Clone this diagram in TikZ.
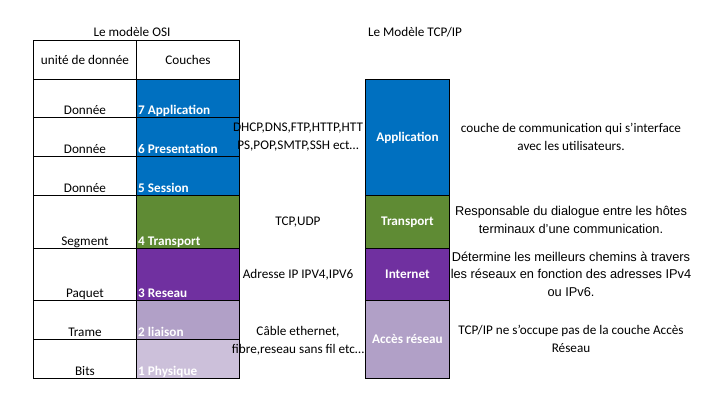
\documentclass[tikz,border=0pt]{standalone}
\usepackage{fontspec}
\setmainfont{Carlito}
\newfontfamily\arialfont{Liberation Sans}
\usetikzlibrary{positioning}
\definecolor{appblue}{HTML}{0070C0}
\definecolor{transgreen}{HTML}{5F8B34}
\definecolor{netpurple}{HTML}{7030A0}
\definecolor{linkpurple}{HTML}{B1A0C7}
\definecolor{physpurple}{HTML}{CCC0DA}
\tikzset{
    every node/.style={inner sep=0pt, font=\fontsize{13.2}{17.5}\selectfont}, % text size of the table
    cell/.style={draw, line width=0.9pt, anchor=north west, minimum width=103pt}, % one cell of the OSI table
    tcpbox/.style={draw, line width=0.9pt, anchor=north west, minimum width=84pt, text=white, font=\fontsize{13.2}{17.5}\selectfont\bfseries}, % one layer of TCP/IP
    unit/.style={text depth=3pt}, % data unit, sits on the bottom line
    layer/.style={text depth=3pt, text=white, font=\fontsize{13.2}{17.5}\selectfont\bfseries}, % OSI layer name
    note/.style={align=center}, % text beside the layers
    arialnote/.style={align=center, font=\arialfont\fontsize{12.8}{17.5}\selectfont},
}
\begin{document}
\begin{tikzpicture}[x=1pt, y=-1pt]
\useasboundingbox (0,0) rectangle (711,410);
% titles
\node (osititle) at (132,32) {Le modèle OSI};
\node (tcptitle) at (415,32) {Le Modèle TCP/IP};
% OSI table
\node[cell, minimum height=39pt] (hunit) at (33,40)  {};
\node[cell, minimum height=39pt] (hlay)  at (136,40) {};
\node at (hunit.center) {unité de donnée};
\node at (hlay.center)  {Couches};
\node[cell, minimum height=38pt]                  (u7) at (33,79)   {};
\node[cell, minimum height=38pt, fill=appblue]    (l7) at (136,79)  {};
\node[cell, minimum height=39pt]                  (u6) at (33,117)  {};
\node[cell, minimum height=39pt, fill=appblue]    (l6) at (136,117) {};
\node[cell, minimum height=39pt]                  (u5) at (33,156)  {};
\node[cell, minimum height=39pt, fill=appblue]    (l5) at (136,156) {};
\node[cell, minimum height=53pt]                  (u4) at (33,195)  {};
\node[cell, minimum height=53pt, fill=transgreen] (l4) at (136,195) {};
\node[cell, minimum height=52pt]                  (u3) at (33,248)  {};
\node[cell, minimum height=52pt, fill=netpurple]  (l3) at (136,248) {};
\node[cell, minimum height=39pt]                  (u2) at (33,300)  {};
\node[cell, minimum height=39pt, fill=linkpurple] (l2) at (136,300) {};
\node[cell, minimum height=39pt]                  (u1) at (33,339)  {};
\node[cell, minimum height=39pt, fill=physpurple] (l1) at (136,339) {};
\node[unit, above=0pt of u7.south] {Donnée};
\node[unit, above=0pt of u6.south] {Donnée};
\node[unit, above=0pt of u5.south] {Donnée};
\node[unit, above=0pt of u4.south] {Segment};
\node[unit, above=0pt of u3.south] {Paquet};
\node[unit, above=0pt of u2.south] {Trame};
\node[unit, above=0pt of u1.south] {Bits};
\node[layer, above right=0pt and 2pt of l7.south west] {7 Application};
\node[layer, above right=0pt and 2pt of l6.south west] {6 Presentation};
\node[layer, above right=0pt and 2pt of l5.south west] {5 Session};
\node[layer, above right=0pt and 2pt of l4.south west] {4 Transport};
\node[layer, above right=0pt and 2pt of l3.south west] {3 Reseau};
\node[layer, above right=0pt and 2pt of l2.south west] {2 liaison};
\node[layer, above right=0pt and 2pt of l1.south west] {1 Physique};
% protocols
\node[note] (papp)  at (298,137) {DHCP,DNS,FTP,HTTP,HTT\\PS,POP,SMTP,SSH ect…};
\node[note] (ptrans) at (298,222) {TCP,UDP};
\node[note] (pnet)  at (298,275) {Adresse IP IPV4,IPV6};
\node[note] (plink) at (298,341) {Câble ethernet,\\fibre,reseau sans fil etc…};
% TCP/IP model
\node[tcpbox, minimum height=116pt, fill=appblue]    (tapp)   at (365,79)  {Application};
\node[tcpbox, minimum height=53pt,  fill=transgreen] (ttrans) at (365,195) {Transport};
\node[tcpbox, minimum height=52pt,  fill=netpurple]  (tnet)   at (365,248) {Internet};
\node[tcpbox, minimum height=78pt,  fill=linkpurple] (tlink)  at (365,300) {Accès réseau};
% roles
\node[note]      (rapp)   at (571,137) {couche de communication qui s’interface\\avec les utilisateurs.};
\node[arialnote] (rtrans) at (571,220) {Responsable du dialogue entre les hôtes\\terminaux d’une communication.};
\node[arialnote] (rnet)   at (571,274) {Détermine les meilleurs chemins à travers\\les réseaux en fonction des adresses IPv4\\ou IPv6.};
\node[note]      (rlink)  at (571,339) {TCP/IP ne s’occupe pas de la couche Accès\\Réseau};
\end{tikzpicture}
\end{document}
